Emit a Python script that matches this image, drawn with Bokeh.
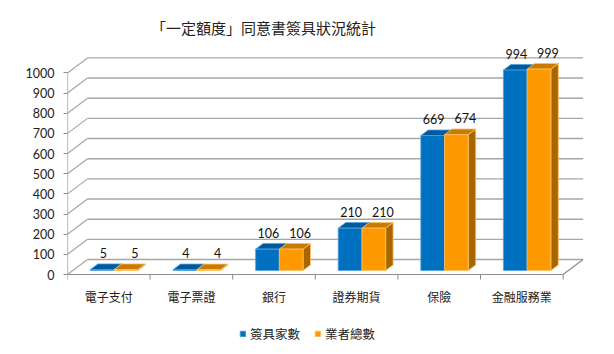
from bokeh.plotting import figure
from bokeh.models import FixedTicker, Range1d, Legend, LegendItem, ColumnDataSource
from bokeh.core.properties import value
from bokeh.embed import file_html
from bokeh.resources import INLINE

# ---------------- data ----------------
categories = ["電子支付", "電子票證", "銀行", "證券期貨", "保險", "金融服務業"]
signed_counts = [5, 4, 106, 210, 669, 994]      # 簽具家數
total_counts = [5, 4, 106, 210, 674, 999]       # 業者總數
series_names = ["簽具家數", "業者總數"]
y_ticks = [0, 100, 200, 300, 400, 500, 600, 700, 800, 900, 1000]
title_text = "「一定額度」同意書簽具狀況統計"

# ---------------- geometry / style ----------------
W, H = 614, 354
LEFT = 67                     # room for the value axis labels
FLOOR_Y = 274                 # pixel row of value 0 on the front plane
PX_PER_CAT = 82.6
PX_PER_VAL = 0.2016
DX = 20 / PX_PER_CAT          # depth offset (x, data units)
DY = 15 / PX_PER_VAL          # depth offset (y, data units)
BAR_W = 0.287
D1, D2 = 0.267, 0.64          # bar front / back depth fractions
LABEL_GAP = 11 / PX_PER_VAL
TICK_LEN = 5 / PX_PER_VAL
CAT_LABEL_DY = 22 / PX_PER_VAL
TITLE_PX = (263, 27)          # title centre (pixels)

NUM_FONT = "Lato"
CJK_FONT = "Noto Sans CJK TC"
GRID = "#a6a6a6"
AXIS = "#8c8c8c"

colors = [
    dict(front="#0070c0", top="#005a9e", side="#004f8a", line="#4fa0dc"),
    dict(front="#ff9900", top="#c97a00", side="#a86600", line="#ffc266"),
]
label_dx = [1, 9]

p = figure(width=W, height=H, output_backend="svg", toolbar_location=None, title=None,
           x_range=Range1d(0, (W - LEFT) / PX_PER_CAT),
           y_range=Range1d(-(H - FLOOR_Y) / PX_PER_VAL, FLOOR_Y / PX_PER_VAL),
           min_border_left=LEFT, min_border_right=0,
           min_border_top=0, min_border_bottom=0)
p.outline_line_color = None
p.xgrid.visible = False
p.ygrid.visible = False
p.xaxis.visible = False
p.background_fill_color = "white"
p.border_fill_color = "white"

n = len(categories)

# ---------------- title ----------------
p.text(x=[(TITLE_PX[0] - LEFT) / PX_PER_CAT], y=[(FLOOR_Y - TITLE_PX[1]) / PX_PER_VAL],
       text=[title_text], text_align="center", text_baseline="middle",
       text_font=value(CJK_FONT), text_font_size="15px", text_color="#222222")

# ---------------- walls / gridlines ----------------
# back wall gridlines
p.segment(x0=[DX] * len(y_ticks), y0=[t + DY for t in y_ticks],
          x1=[n + DX] * len(y_ticks), y1=[t + DY for t in y_ticks],
          line_color=GRID, line_width=1.4)
# left wall diagonals
p.segment(x0=[0] * len(y_ticks), y0=y_ticks,
          x1=[DX] * len(y_ticks), y1=[t + DY for t in y_ticks],
          line_color=GRID, line_width=1.2)
# floor front + right diagonal + front axis line
p.segment(x0=[0, n, 0], y0=[0, 0, 0], x1=[n, n + DX, 0], y1=[0, DY, y_ticks[-1]],
          line_color=AXIS, line_width=1.2)
# category boundary ticks
p.segment(x0=list(range(n + 1)), y0=[0] * (n + 1), x1=list(range(n + 1)), y1=[-TICK_LEN] * (n + 1),
          line_color=AXIS, line_width=1)
# category labels
p.text(x=[i + 0.5 for i in range(n)], y=[-CAT_LABEL_DY] * n, text=categories,
       text_align="center", text_baseline="middle",
       text_font=value(CJK_FONT), text_font_size="12px", text_color="#222222")

# ---------------- bars ----------------
renderers = []
for s, vals in enumerate([signed_counts, total_counts]):
    c = colors[s]
    lefts, rights, bottoms, tops = [], [], [], []
    top_xs, top_ys, side_xs, side_ys = [], [], [], []
    lx, ly = [], []
    t = D2 - D1
    for i, v in enumerate(vals):
        x0 = i + 0.5 - BAR_W + s * BAR_W + D1 * DX
        x1 = x0 + BAR_W
        b = D1 * DY
        tp = v + D1 * DY
        lefts.append(x0); rights.append(x1); bottoms.append(b); tops.append(tp)
        top_xs.append([x0, x1, x1 + t * DX, x0 + t * DX])
        top_ys.append([tp, tp, tp + t * DY, tp + t * DY])
        side_xs.append([x1, x1, x1 + t * DX, x1 + t * DX])
        side_ys.append([b, tp, tp + t * DY, b + t * DY])
        lx.append((x0 + x1) / 2)
        ly.append(tp + t * DY + LABEL_GAP)
    p.patches(xs=side_xs, ys=side_ys, fill_color=c["side"], line_color=c["line"], line_width=0.8)
    p.patches(xs=top_xs, ys=top_ys, fill_color=c["top"], line_color=c["line"], line_width=0.8)
    r = p.quad(left=lefts, right=rights, bottom=bottoms, top=tops,
               fill_color=c["front"], line_color=c["line"], line_width=0.8)
    renderers.append(r)
    src = ColumnDataSource(dict(x=lx, y=ly, t=[str(v) for v in vals]))
    p.text(x="x", y="y", text="t", source=src, text_align="center", text_baseline="middle",
           x_offset=label_dx[s], text_font=value(NUM_FONT), text_font_size="12.5px",
           text_color="#111111")

# ---------------- value axis ----------------
yax = p.yaxis[0]
yax.ticker = FixedTicker(ticks=y_ticks)
yax.axis_line_color = None
yax.major_tick_in = 0
yax.major_tick_out = 4
yax.major_tick_line_color = AXIS
yax.minor_tick_line_color = None
yax.major_label_standoff = 9
yax.major_label_text_font = NUM_FONT
yax.major_label_text_font_size = "12.5px"
yax.major_label_text_color = "#222222"

# ---------------- legend ----------------
legend = Legend(items=[LegendItem(label=series_names[k], renderers=[renderers[k]]) for k in range(2)],
                orientation="horizontal", location=(172, 11),
                glyph_width=7, glyph_height=7, label_standoff=4, spacing=14,
                padding=0, margin=0, border_line_color=None, background_fill_alpha=0,
                label_text_font=CJK_FONT, label_text_font_size="12.5px",
                label_text_color="#222222", label_height=14)
p.add_layout(legend)

open("out.html", "w").write(file_html(p, INLINE))
